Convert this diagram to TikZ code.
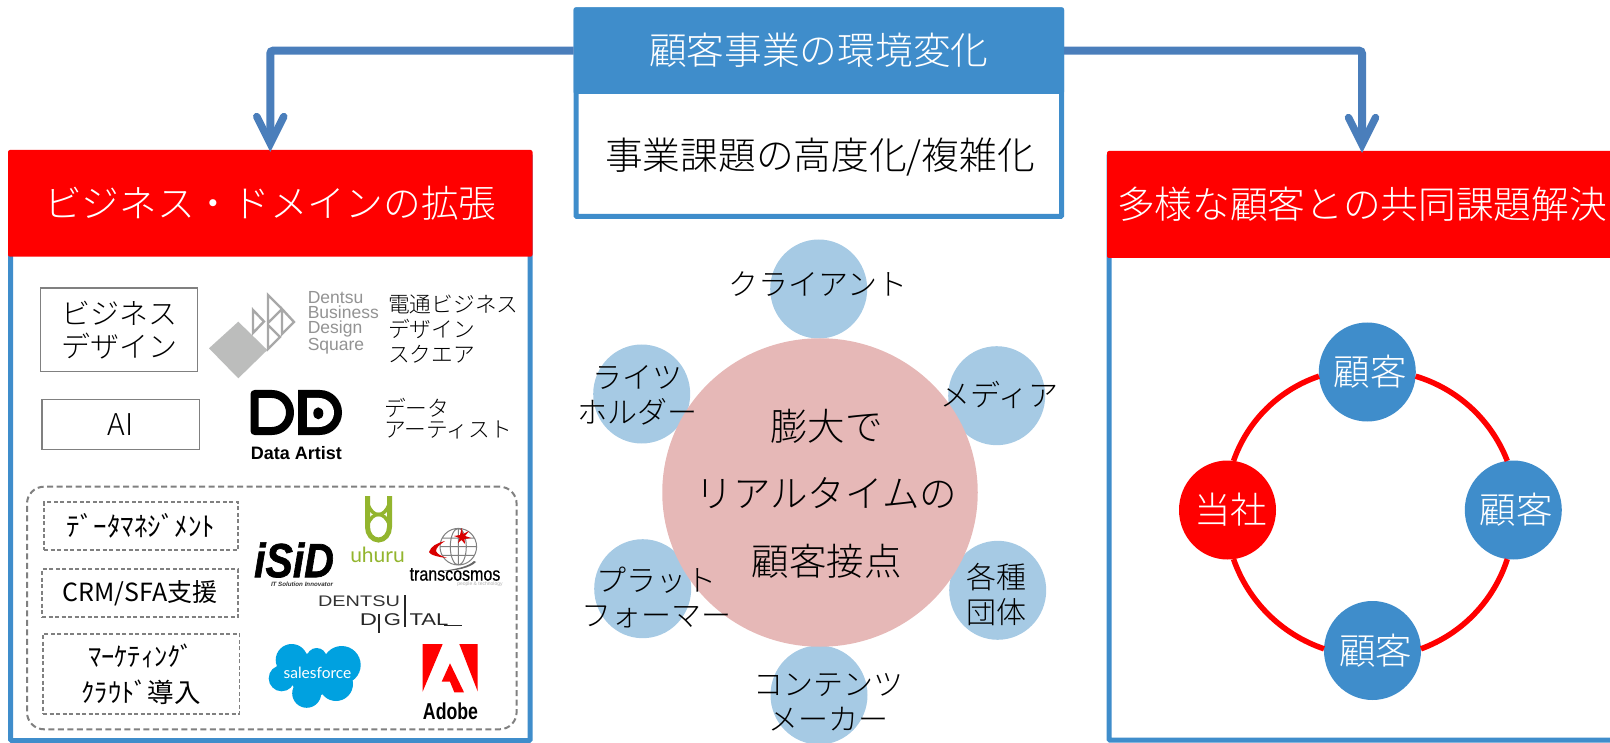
\documentclass[tikz,border=0pt]{standalone}
\usepackage{fontspec}
\usetikzlibrary{shapes.geometric,arrows.meta,calc}
\setmainfont{Liberation Sans}
\newfontfamily\jp{Noto Sans CJK JP Light}
\newfontfamily\jpr{Noto Sans CJK JP}
\newfontfamily\lat{Lato}
\newcommand\pxf[2]{\fontsize{#1pt}{#2pt}\selectfont}
\newcommand\dn[1]{\raisebox{-2pt}{#1}}
\newcommand\peerlabel[1]{\makebox[0pt]{\hspace{6pt}\raisebox{-1pt}{#1}}}
\definecolor{hblue}{HTML}{3F8DCB}
\definecolor{arrowblue}{HTML}{4A7EBB}
\definecolor{softblue}{HTML}{A6CAE4}
\definecolor{softpink}{HTML}{E6B8B7}
\definecolor{logogray}{HTML}{BCBDBC}
\definecolor{triogray}{HTML}{A8A8A8}
\definecolor{uhurugreen}{HTML}{93B52E}
\definecolor{sfblue}{HTML}{00A1E0}
\tikzset{
  frame/.style={draw=hblue,line width=5pt,fill=white,rounded corners=1pt,inner sep=0,outer sep=0},
  head/.style={rounded corners=2pt,inner sep=0,outer sep=0,text=white,font=\jp\pxf{37.7}{37.7}},
  bluehead/.style={head,fill=hblue},
  redhead/.style={head,fill=red},
  flow/.style={draw=arrowblue,line width=8pt,rounded corners=3pt,-{Straight Barb[length=27pt,width=27pt,line width=7.5pt,line cap=round,line join=miter]}},
  graybox/.style={draw=gray,line width=1.5pt,inner sep=0,outer sep=0,align=center,text=black},
  dashbox/.style={draw=gray,line width=1.5pt,dash pattern=on 4pt off 2.5pt,inner sep=0,outer sep=0,align=center},
  petal/.style={ellipse,fill=softblue,inner sep=0,minimum width=97pt,minimum height=99pt},
  hub/.style={ellipse,fill=softpink,inner sep=0,minimum width=315.5pt,minimum height=308.5pt},
  peer/.style={ellipse,inner sep=0,outer sep=0,minimum width=97pt,minimum height=99pt,text=white,font=\jp\pxf{36.5}{36.5}},
  ring/.style={draw=red,line width=5.5pt,looseness=0.9},
  petaltext/.style={inner sep=0,align=center,font=\jp\pxf{30}{35}},
  jptext/.style={inner sep=0,align=left,anchor=west},
  logotext/.style={inner sep=0,transform shape}
}
\begin{document}
\begin{tikzpicture}[x=1pt,y=-1pt]
\useasboundingbox (0,0) rectangle (1610,743);
\clip (0,0) rectangle (1610,743);

% centre block
\node[frame,minimum width=485.5pt,minimum height=206.5pt] (topframe) at (818.75,113.25) {};
\node[bluehead,minimum width=490.4pt,minimum height=86.7pt] (tophead) at (818.8,50.65) {\dn{顧客事業の環境変化}};
\node[inner sep=0,font=\jp\pxf{37.7}{37.7}] (toptext) at (820,157.5) {事業課題の高度化/複雑化};

% left block
\node[frame,minimum width=519.3pt,minimum height=585.5pt] (leftframe) at (270.35,447.75) {};
\node[redhead,minimum width=524.5pt,minimum height=106.7pt] (lefthead) at (270.25,203.35) {\dn{ビジネス・ドメインの拡張}};

% right block
\node[frame,minimum width=520pt,minimum height=585pt] (rightframe) at (1369,447.5) {};
\node[redhead,minimum width=510pt,minimum height=107pt] (righthead) at (1362,204.5) {\dn{多様な顧客との共同課題解決}};

% arrows
\draw[flow,shorten >=-2pt] (tophead.west) -| (lefthead.north);
\draw[flow,shorten >=-2pt] (tophead.east) -| (righthead.north);

% left content boxes
\node[graybox,font=\jp\pxf{29}{33},minimum width=157pt,minimum height=83.5pt] (bizbox) at (119.2,329.8) {\dn{ビジネス}\\\dn{デザイン}};
\node[graybox,font=\jp\pxf{30}{30},minimum width=157.5pt,minimum height=50pt] (aibox) at (120.7,424.3) {\dn{AI}};
\node[draw=gray,line width=2pt,dash pattern=on 6pt off 3.5pt,rounded corners=17pt,inner sep=0,outer sep=0,minimum width=489.6pt,minimum height=242.6pt] (groupbox) at (271.8,608) {};
\node[dashbox,font=\jpr\pxf{27}{27},minimum width=194pt,minimum height=48pt] (dmbox) at (141,526) {ﾃﾞｰﾀﾏﾈｼﾞﾒﾝﾄ};
\node[dashbox,font=\jpr\pxf{25}{25},minimum width=196pt,minimum height=48pt] (crmbox) at (140,593) {\dn{CRM/SFA支援}};
\node[dashbox,font=\jpr\pxf{26.5}{36},minimum width=196.4pt,minimum height=80.3pt] (mkbox) at (141.2,673.9) {ﾏｰｹﾃｨﾝｸﾞ\\ｸﾗｳﾄﾞ導入};

% Dentsu Business Design Square
\fill[logogray] (209,348.3) -- (238.3,321.7) -- (267.3,350) -- (238.3,378.3) -- cycle;
\draw[triogray,line width=2.4pt,line join=miter]
  (253,310) -- (253,333) -- (264,321.5) -- cycle
  (268,295) -- (282,309) -- (268,323) -- cycle
  (282,309) -- (282,334) -- (294,322) -- cycle
  (268,325) -- (280,337) -- (268,349) -- cycle;
\node[inner sep=0,anchor=north west,align=left,text=gray!85,font=\pxf{17.5}{15}] (dbdsname) at (307.6,291) {Dentsu\\Business\\Design\\Square};
\node[jptext,font=\jp\pxf{21.7}{25}] (dbdstext) at (388,329) {電通ビジネス\\デザイン\\スクエア};

% Data Artist
\draw[line width=8pt,line join=round] (254.5,394) -- (272,394) arc[start angle=90,end angle=-90,x radius=18pt,y radius=18.5pt] -- (254.5,431) -- cycle;
\fill[black] (298,390) -- (320,390) arc[start angle=90,end angle=-90,x radius=22pt,y radius=22.5pt] -- (312,435) -- (298,435) -- cycle;
\fill[white] (307,398) -- (319,398) arc[start angle=90,end angle=-90,x radius=15pt,y radius=14.5pt] -- (312,427) -- (307,427) -- cycle;
\fill[black] (318.3,413.3) ellipse[x radius=5pt,y radius=6pt];
\node[inner sep=0,font=\bfseries\pxf{18}{18}] (datartist) at (296.5,453) {Data Artist};
\node[jptext,font=\jp\pxf{21.7}{21}] (datatext) at (384,418.5) {データ\\アーティスト};

% iSiD
\node[logotext,yscale=1.17,font=\bfseries\itshape\pxf{41}{41}] (isid) at (294,560) {\addfontfeature{FakeBold=1.5}iSiD};
\node[inner sep=0,font=\bfseries\itshape\pxf{6.2}{6.2},text=black!80] (isidsub) at (302,583.8) {IT Solution Innovator};

% uhuru
\draw[uhurugreen,line width=5pt] (367.5,496) -- (367.5,527) arc[start angle=180,end angle=360,x radius=11pt,y radius=13pt] -- (389.5,496);
\draw[uhurugreen,line width=3.5pt] (367.5,503) .. controls (370,511) and (374,514.5) .. (378.5,514.5) .. controls (383,514.5) and (387,511) .. (389.5,503);
\draw[uhurugreen,line width=3.5pt] (367.5,525) .. controls (370,518) and (374,514.5) .. (378.5,514.5) .. controls (383,514.5) and (387,518) .. (389.5,525);
\node[inner sep=0,text=uhurugreen,font=\lat\pxf{21}{21}] (uhuru) at (377.5,555) {uhuru};

% transcosmos
\draw[gray,line width=1pt] (458.3,546.7) circle[radius=18.3pt]
  (458.3,546.7) ellipse[x radius=8pt,y radius=18.3pt]
  (458.3,528.4) -- (458.3,565)
  (440,546.7) -- (476.6,546.7)
  (442,538) -- (474.6,538) (442,555.4) -- (474.6,555.4);
\fill[red!85!black] (429,552) .. controls (431,546) and (437,543) .. (445,541) .. controls (439,545) and (436,548) .. (436,551) .. controls (437,554) and (441,556) .. (447,558) .. controls (438,557) and (430,555) .. (429,552) -- cycle;
\fill[red!85!black] (461.7,528) -- (463,534) -- (469,531) -- (465,536) -- (471,538) -- (464.5,539) -- (465,544) -- (461.5,540) -- (458,543) -- (459.5,538) -- (454,536) -- (460,535) -- cycle;
\fill[gray!80!black] (476,562) .. controls (470,568) and (456,571) .. (442,571) .. controls (455,569) and (468,567) .. (474,561) -- cycle;
\node[logotext,yscale=1.2,font=\pxf{16}{16}] (transcosmos) at (455,574.5) {\addfontfeature{FakeBold=0.5}transcosmos};
\node[inner sep=0,text=gray!60,font=\pxf{5}{5}] (tcsub) at (480,584.5) {people \& technology};

% Dentsu Digital
\node[logotext,xscale=1.3,text=black!80,font=\pxf{15.3}{15.3}] (dentsu) at (359,601) {DENTSU};
\node[logotext,text=black!85,xscale=1.4,font=\pxf{17}{17}] (dgtd) at (368.5,620) {D};
\node[logotext,text=black!85,xscale=1.3,font=\pxf{17}{17}] (dgtg) at (392.5,620) {G};
\node[logotext,text=black!85,xscale=1.3,font=\pxf{17}{17}] (dgttal) at (429,620) {TAL};
\draw[black!85,line width=1.2pt] (379,614) -- (379,633) (405,595) -- (405,627) (444,625.8) -- (462,625.8);

% Salesforce
\fill[sfblue] (291.7,660) circle[radius=16pt] (316.7,658) circle[radius=10pt] (341.7,665) circle[radius=19pt] (281.7,678.3) circle[radius=13pt] (306.7,693.3) circle[radius=14.5pt] (336,684) circle[radius=17pt] (312,675) circle[radius=22pt];
\node[inner sep=0,text=white,font=\lat\pxf{15.5}{15.5}] (salesforce) at (317.5,673) {salesforce};

% Adobe
\fill[red] (422.7,644) -- (442.7,644) -- (422.7,691.5) -- cycle;
\fill[red] (459.3,644) -- (477.7,644) -- (477.7,691.5) -- cycle;
\fill[red] (450,663.3) -- (464,692.3) -- (454.3,692.3) -- (450,681.7) -- (441.7,681.7) -- cycle;
\node[logotext,yscale=1.3,font=\bfseries\pxf{17.7}{17.7}] (adobe) at (450.5,711) {Adobe};

% centre cluster
\node[petal] (p1) at (818.7,289) {};
\node[petal] (p2) at (996.7,395.7) {};
\node[petal] (p3) at (997.7,590.3) {};
\node[petal] (p4) at (819,695) {};
\node[petal] (p5) at (642.7,588.7) {};
\node[petal] (p6) at (641.7,394) {};
\node[hub] (hubnode) at (820,492.5) {};
\node[petaltext] (t1) at (818,283.7) {クライアント};
\node[petaltext] (t2) at (999.5,395) {メディア};
\node[petaltext] (t3) at (996,594.5) {各種\\団体};
\node[petaltext] (t4) at (828,702.5) {コンテンツ\\メーカー};
\node[petaltext] (t5) at (656,597.5) {プラット\\フォーマー};
\node[petaltext] (t6) at (637,395.7) {ライツ\\ホルダー};
\node[inner sep=0,align=center,font=\jp\pxf{37.5}{67.5}] (hubtext) at (826.5,493.5) {膨大で\\リアルタイムの\\顧客接点};

% right cluster
\node[peer,fill=hblue] (c1) at (1367.3,372) {\peerlabel{顧客}};
\node[peer,fill=hblue] (c2) at (1513.3,510) {\peerlabel{顧客}};
\node[peer,fill=hblue] (c3) at (1372.5,650.5) {\peerlabel{顧客}};
\node[peer,fill=red] (me) at (1227.5,510) {\peerlabel{当社}};
\draw[ring] (c1.-5) to[bend left=26] (c2.97);
\draw[ring] (c2.263) to[bend left=26] (c3.2);
\draw[ring] (c3.178) to[bend left=26] (me.277);
\draw[ring] (me.83) to[bend left=26] (c1.185);
\end{tikzpicture}
\end{document}
